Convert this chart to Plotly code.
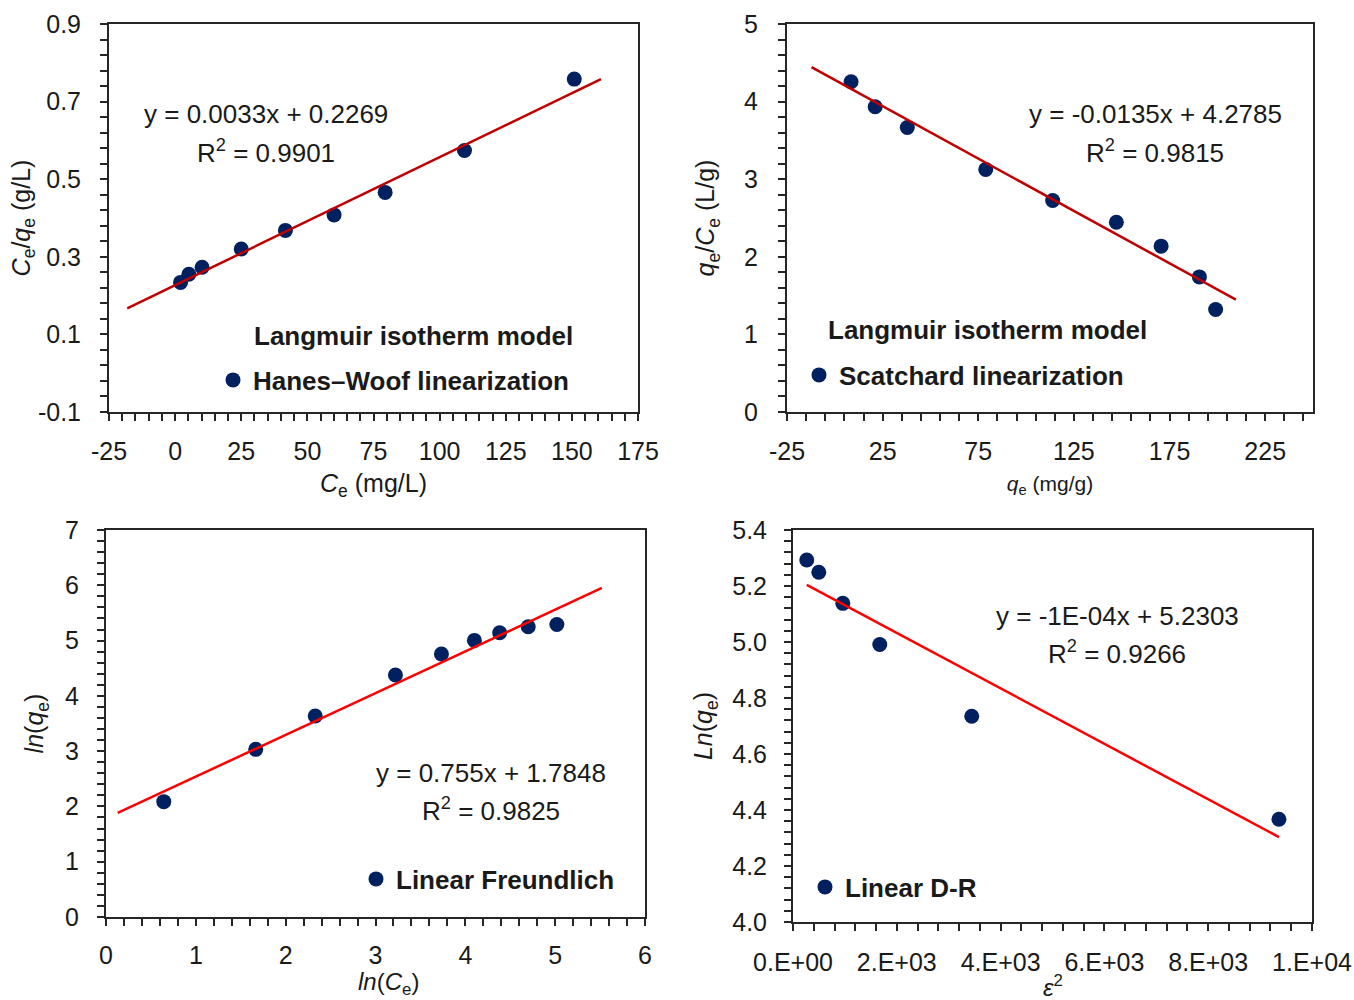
import plotly.graph_objects as go

# ---------------- data ----------------
# Panel 1: Langmuir, Hanes–Woolf linearization (Ce/qe vs Ce)
hw_ce = [2.05, 5.2, 10.2, 25.0, 41.7, 60.1, 79.4, 109.4, 150.9]
hw_ratio = [0.234, 0.255, 0.273, 0.320, 0.368, 0.408, 0.466, 0.574, 0.758]
hw_fit_coef = [0.0033, 0.2269]          # slope, intercept
hw_fit_span = [-18.1, 161.0]            # trendline x extent (with forecast)
hw_eq = ["y = 0.0033x + 0.2269", "R<sup>2</sup> = 0.9901"]

# Panel 2: Langmuir, Scatchard linearization (qe/Ce vs qe)
sc_qe = [8.5, 21.1, 37.9, 78.9, 113.9, 147.2, 170.6, 190.6, 199.1]
sc_ratio = [4.256, 3.934, 3.667, 3.126, 2.726, 2.446, 2.137, 1.741, 1.320]
sc_fit_coef = [-0.0135, 4.2785]
sc_fit_span = [-12.2, 209.7]
sc_eq = ["y = -0.0135x + 4.2785", "R<sup>2</sup> = 0.9815"]

# Panel 3: linear Freundlich (ln qe vs ln Ce)
fr_lnce = [0.643, 1.667, 2.329, 3.222, 3.734, 4.101, 4.382, 4.700, 5.019]
fr_lnqe = [2.086, 3.032, 3.635, 4.376, 4.756, 5.003, 5.142, 5.250, 5.292]
fr_fit_coef = [0.755, 1.7848]
fr_fit_span = [0.13, 5.52]
fr_eq = ["y = 0.755x + 1.7848", "R<sup>2</sup> = 0.9825"]

# Panel 4: linear D-R (ln qe vs epsilon^2)
dr_eps2 = [265, 497, 960, 1672, 3444, 9363]
dr_lnqe = [5.293, 5.249, 5.138, 4.991, 4.735, 4.367]
dr_fit_coef = [-0.000099, 5.2303]
dr_eq = ["y = -1E-04x + 5.2303", "R<sup>2</sup> = 0.9266"]

# tick labels
p1_xticks = [-25, 0, 25, 50, 75, 100, 125, 150, 175]
p1_xtext = ["-25", "0", "25", "50", "75", "100", "125", "150", "175"]
p1_yticks = [-0.1, 0.1, 0.3, 0.5, 0.7, 0.9]
p1_ytext = ["-0.1", "0.1", "0.3", "0.5", "0.7", "0.9"]
p2_xticks = [-25, 25, 75, 125, 175, 225]
p2_xtext = ["-25", "25", "75", "125", "175", "225"]
p2_yticks = [0, 1, 2, 3, 4, 5]
p2_ytext = ["0", "1", "2", "3", "4", "5"]
p3_xticks = [0, 1, 2, 3, 4, 5, 6]
p3_xtext = ["0", "1", "2", "3", "4", "5", "6"]
p3_yticks = [0, 1, 2, 3, 4, 5, 6, 7]
p3_ytext = ["0", "1", "2", "3", "4", "5", "6", "7"]
p4_xticks = [0, 2000, 4000, 6000, 8000, 10000]
p4_xtext = ["0.E+00", "2.E+03", "4.E+03", "6.E+03", "8.E+03", "1.E+04"]
p4_yticks = [4.0, 4.2, 4.4, 4.6, 4.8, 5.0, 5.2, 5.4]
p4_ytext = ["4.0", "4.2", "4.4", "4.6", "4.8", "5.0", "5.2", "5.4"]

# ---------------- style ----------------
FONT = "Liberation Sans, Arial, sans-serif"
INK = "#1a1a1a"
AXC = "#262626"
NAVY = "#002060"
DARKRED = "#C00000"
RED = "#FF0000"
W, H = 1354, 1000


def line_pts(coef, span):
    xs = list(span)
    return xs, [coef[0] * x + coef[1] for x in xs]


fig = go.Figure()

panels = [
    dict(x=hw_ce, y=hw_ratio, coef=hw_fit_coef, span=hw_fit_span, color=DARKRED,
         name="Hanes–Woof linearization", xa="x", ya="y", legend="legend"),
    dict(x=sc_qe, y=sc_ratio, coef=sc_fit_coef, span=sc_fit_span, color=DARKRED,
         name="Scatchard linearization", xa="x2", ya="y2", legend="legend2"),
    dict(x=fr_lnce, y=fr_lnqe, coef=fr_fit_coef, span=fr_fit_span, color=RED,
         name="Linear Freundlich", xa="x3", ya="y3", legend="legend3"),
    dict(x=dr_eps2, y=dr_lnqe, coef=dr_fit_coef, span=[min(dr_eps2), max(dr_eps2)], color=RED,
         name="Linear D-R", xa="x4", ya="y4", legend="legend4"),
]

for p in panels:
    fig.add_trace(go.Scatter(
        x=p["x"], y=p["y"], mode="markers", name=p["name"],
        marker=dict(color=NAVY, size=15),
        xaxis=p["xa"], yaxis=p["ya"], legend=p["legend"], showlegend=True,
    ))
    lx, ly = line_pts(p["coef"], p["span"])
    fig.add_trace(go.Scatter(
        x=lx, y=ly, mode="lines", line=dict(color=p["color"], width=2.5),
        xaxis=p["xa"], yaxis=p["ya"], showlegend=False, hoverinfo="skip",
    ))


def axis(domain, rng, tv, tt, mdt, anchor, title, tsize=25, standoff=8, lstand=8):
    return dict(
        domain=domain, range=rng, anchor=anchor, automargin=False,
        tickmode="array", tickvals=tv, ticktext=tt,
        showline=True, linecolor=AXC, linewidth=2, mirror=True,
        ticks="outside", ticklen=7, tickwidth=2, tickcolor=AXC,
        minor=dict(tickmode="linear", tick0=tv[0], dtick=mdt, ticks="outside",
                   ticklen=7, tickwidth=2, tickcolor=AXC),
        showgrid=False, zeroline=False,
        tickfont=dict(family=FONT, size=25, color=INK),
        ticklabelstandoff=lstand,
        title=dict(text=title, font=dict(family=FONT, size=tsize, color=INK), standoff=standoff),
    )


def px(v):
    return v / W


def py(v):
    return 1 - v / H


layout = dict(
    width=W, height=H, margin=dict(l=0, r=0, t=0, b=0, autoexpand=False),
    paper_bgcolor="white", plot_bgcolor="white",
    font=dict(family=FONT, color=INK),
    xaxis=axis([px(109), px(638)], [-25, 175], p1_xticks, p1_xtext, 5, "y",
               "<i>C</i><sub>e</sub> (mg/L)", standoff=10, lstand=9),
    yaxis=axis([py(412), py(24)], [-0.1, 0.9], p1_yticks, p1_ytext, 0.04, "x",
               "<i>C</i><sub>e</sub>/<i>q</i><sub>e</sub> (g/L)", standoff=0, lstand=14),
    xaxis2=axis([px(787), px(1313)], [-25, 250], p2_xticks, p2_xtext, 10, "y2",
                "<i>q</i><sub>e</sub> (mg/g)", tsize=21, standoff=12, lstand=9),
    yaxis2=axis([py(412), py(24)], [0, 5], p2_yticks, p2_ytext, 0.2, "x2",
                "<i>q</i><sub>e</sub>/<i>C</i><sub>e</sub> (L/g)", standoff=22, lstand=15),
    xaxis3=axis([px(106), px(645)], [0, 6], p3_xticks, p3_xtext, 0.2, "y3",
                "", lstand=8),
    yaxis3=axis([py(917), py(530)], [0, 7], p3_yticks, p3_ytext, 0.2, "x3",
                "<i>ln</i>(<i>q</i><sub>e</sub>)", standoff=14, lstand=13),
    xaxis4=axis([px(793), px(1312)], [0, 10000], p4_xticks, p4_xtext, 400, "y4",
                "", lstand=10),
    yaxis4=axis([py(922), py(530)], [4.0, 5.4], p4_yticks, p4_ytext, 0.04, "x4",
                "<i>Ln</i>(<i>q</i><sub>e</sub>)", standoff=12, lstand=12),
)

leg_font = dict(family=FONT, size=26, color=INK, weight="bold")
for key, lx, ly in [("legend", 213, 380), ("legend2", 799, 375),
                    ("legend3", 356, 879), ("legend4", 805, 887)]:
    layout[key] = dict(x=px(lx), y=py(ly), xanchor="left", yanchor="middle",
                       bgcolor="rgba(0,0,0,0)", borderwidth=0, font=leg_font)

fig.update_layout(**layout)

ann_font = dict(family=FONT, size=26, color=INK)
eq_specs = [(hw_eq, 266, 114, 151), (sc_eq, 1155, 114, 151),
            (fr_eq, 491, 773, 809), (dr_eq, 1117, 616, 652)]
for eq, cx, y1, y2 in eq_specs:
    fig.add_annotation(text=eq[0], x=px(cx), y=py(y1), xref="paper", yref="paper",
                       showarrow=False, xanchor="center", yanchor="middle", font=ann_font)
    fig.add_annotation(text=eq[1], x=px(cx), y=py(y2), xref="paper", yref="paper",
                       showarrow=False, xanchor="center", yanchor="middle", font=ann_font)

for lx, ly in [(252, 336), (826, 330)]:
    fig.add_annotation(text="<b>Langmuir isotherm model</b>", x=px(lx), y=py(ly),
                       xref="paper", yref="paper", showarrow=False,
                       xanchor="left", yanchor="middle", font=ann_font)

# bottom-row x-axis titles, kept just inside the image edge
title_font = dict(family=FONT, size=24, color=INK)
for text, cx, top in [("<i>ln</i>(<i>C</i><sub>e</sub>)", 388, 966),
                      ("<i>ε</i><sup>2</sup>", 1053, 969)]:
    fig.add_annotation(text=text, x=px(cx), y=py(top), xref="paper", yref="paper",
                       showarrow=False, xanchor="center", yanchor="top", font=title_font)

fig.write_html("out.html")
